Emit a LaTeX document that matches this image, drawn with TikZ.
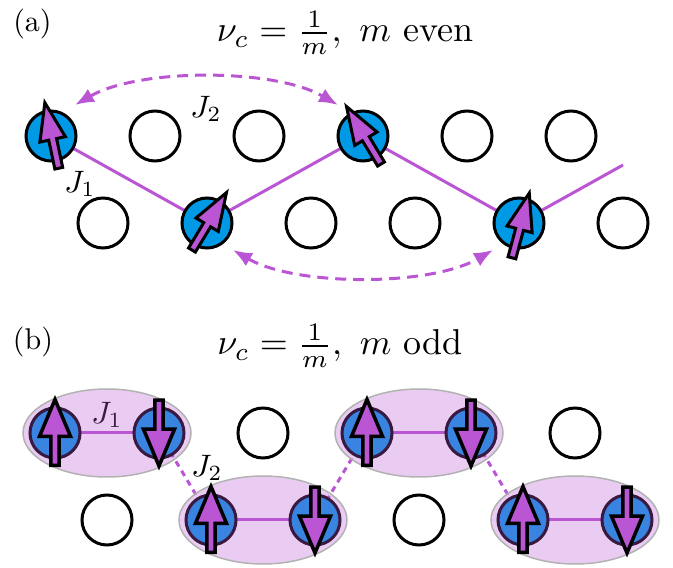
\documentclass[tikz,border=0pt]{standalone}
\usetikzlibrary{arrows.meta,backgrounds,calc,shapes.geometric}
\definecolor{orch}{RGB}{186,85,211}
\definecolor{spinblue}{RGB}{0,153,230}
\begin{document}
\begin{tikzpicture}[x=1pt,y=1pt,
  site/.style={circle,draw=black,line width=3pt,minimum size=50pt,inner sep=0pt,fill=white},
  occ/.style={site,fill=spinblue},
  jone/.style={orch,line width=3pt},
  jtwoarc/.style={orch,line width=3pt,dash pattern=on 11pt off 7pt,{Latex[length=19pt,width=15pt]}-{Latex[length=19pt,width=15pt]}},
  jtwoline/.style={orch,line width=3pt,dash pattern=on 6pt off 5pt},
  pairbox/.style={ellipse,fill=orch,fill opacity=0.3,draw=black!30,line width=1.5pt,minimum width=168pt,minimum height=88pt,inner sep=0pt},
  lab/.style={scale=3.0,inner sep=0pt},
  jlab/.style={scale=3.1,inner sep=0pt},
  ttl/.style={scale=3.6,anchor=base,inner sep=0pt},
  spina/.pic={\filldraw[fill=orch,draw=black,line width=3pt,line join=miter] (-35,-4) -- (-5.5,-4) -- (-5.5,-13) -- (32,0) -- (-5.5,13) -- (-5.5,4) -- (-35,4) -- cycle;},
  spinb/.pic={\filldraw[fill=orch,draw=black,line width=3.5pt,line join=miter] (-34.3,-4.1) -- (-5.3,-4.1) -- (-5.3,-15.5) -- (31.5,0) -- (-5.3,15.5) -- (-5.3,4.1) -- (-34.3,4.1) -- cycle;}
]
\useasboundingbox (0,0) rectangle (673,568);

% ---------- panel (a) ----------
\node[lab] (pa) at (32.5,544) {(a)};
\node[ttl] (ta) at (345,526) {$\nu_c=\frac{1}{m},\ m$ even};

\node[occ]  (a1) at (51,432) {};
\node[site] (a2) at (155,432) {};
\node[site] (a3) at (259,432) {};
\node[occ]  (a4) at (363,432) {};
\node[site] (a5) at (467,432) {};
\node[site] (a6) at (571,432) {};
\node[site] (b1) at (103,345) {};
\node[occ]  (b2) at (207,345) {};
\node[site] (b3) at (311,345) {};
\node[site] (b4) at (415,345) {};
\node[occ]  (b5) at (519,345) {};
\node[site] (b6) at (623,345) {};
\coordinate (zend) at (623,403);

\begin{scope}[on background layer]
  \draw[jone] (a1.center) -- (b2.center) -- (a4.center) -- (b5.center) -- (zend);
\end{scope}

\pic[rotate=102] at ($(a1)+(0.5,2)$) {spina};
\pic[rotate=59]  at ($(b2)+(3,3)$) {spina};
\pic[rotate=121] at ($(a4)+(0,2)$) {spina};
\pic[rotate=75]  at ($(b5)+(2,-1)$) {spina};

\node[jlab] (j1a) at (80,384) {$J_1$};
\node[jlab] (j2a) at (206,459) {$J_2$};

\draw[jtwoarc] ($(a1)+(24,31)$) to[out=30,in=150,looseness=0.72] ($(a4)+(-25,31)$);
\draw[jtwoarc] ($(b2)+(26,-27)$) to[out=-30,in=-150,looseness=0.72] ($(b5)+(-26,-27)$);

% ---------- panel (b) ----------
\node[lab] (pb) at (33,226) {(b)};
\node[ttl] (tb) at (340,213) {$\nu_c=\frac{1}{m},\ m$ odd};

\node[occ]  (p1) at (55,135) {};
\node[occ]  (p2) at (159,135) {};
\node[site] (c1) at (263,135) {};
\node[occ]  (p5) at (367,135) {};
\node[occ]  (p6) at (471,135) {};
\node[site] (c2) at (575,135) {};
\node[site] (c3) at (107,48) {};
\node[occ]  (p3) at (211,48) {};
\node[occ]  (p4) at (315,48) {};
\node[site] (c4) at (419,48) {};
\node[occ]  (p7) at (523,48) {};
\node[occ]  (p8) at (627,48) {};

\begin{scope}[on background layer]
  \draw[jone] (p1.center) -- (p2.center);
  \draw[jone] (p3.center) -- (p4.center);
  \draw[jone] (p5.center) -- (p6.center);
  \draw[jone] (p7.center) -- (p8.center);
  \draw[jtwoline] (p2.center) -- (p3.center);
  \draw[jtwoline] (p4.center) -- (p5.center);
  \draw[jtwoline] (p6.center) -- (p7.center);
\end{scope}

\node[jlab] (j1b) at (107,153) {$J_1$};
\node[jlab] (j2b) at (207,100) {$J_2$};

\node[pairbox] (e1) at ($(p1)!0.5!(p2)$) {};
\node[pairbox] (e2) at ($(p3)!0.5!(p4)$) {};
\node[pairbox] (e3) at ($(p5)!0.5!(p6)$) {};
\node[pairbox] (e4) at ($(p7)!0.5!(p8)$) {};

\pic[rotate=90]  at ($(p1)+(0,2)$) {spinb};
\pic[rotate=-90] at ($(p2)+(0,-1.5)$) {spinb};
\pic[rotate=90]  at ($(p3)+(0,2)$) {spinb};
\pic[rotate=-90] at ($(p4)+(0,-1.5)$) {spinb};
\pic[rotate=90]  at ($(p5)+(0,2)$) {spinb};
\pic[rotate=-90] at ($(p6)+(0,-1.5)$) {spinb};
\pic[rotate=90]  at ($(p7)+(0,2)$) {spinb};
\pic[rotate=-90] at ($(p8)+(0,-1.5)$) {spinb};
\end{tikzpicture}
\end{document}
